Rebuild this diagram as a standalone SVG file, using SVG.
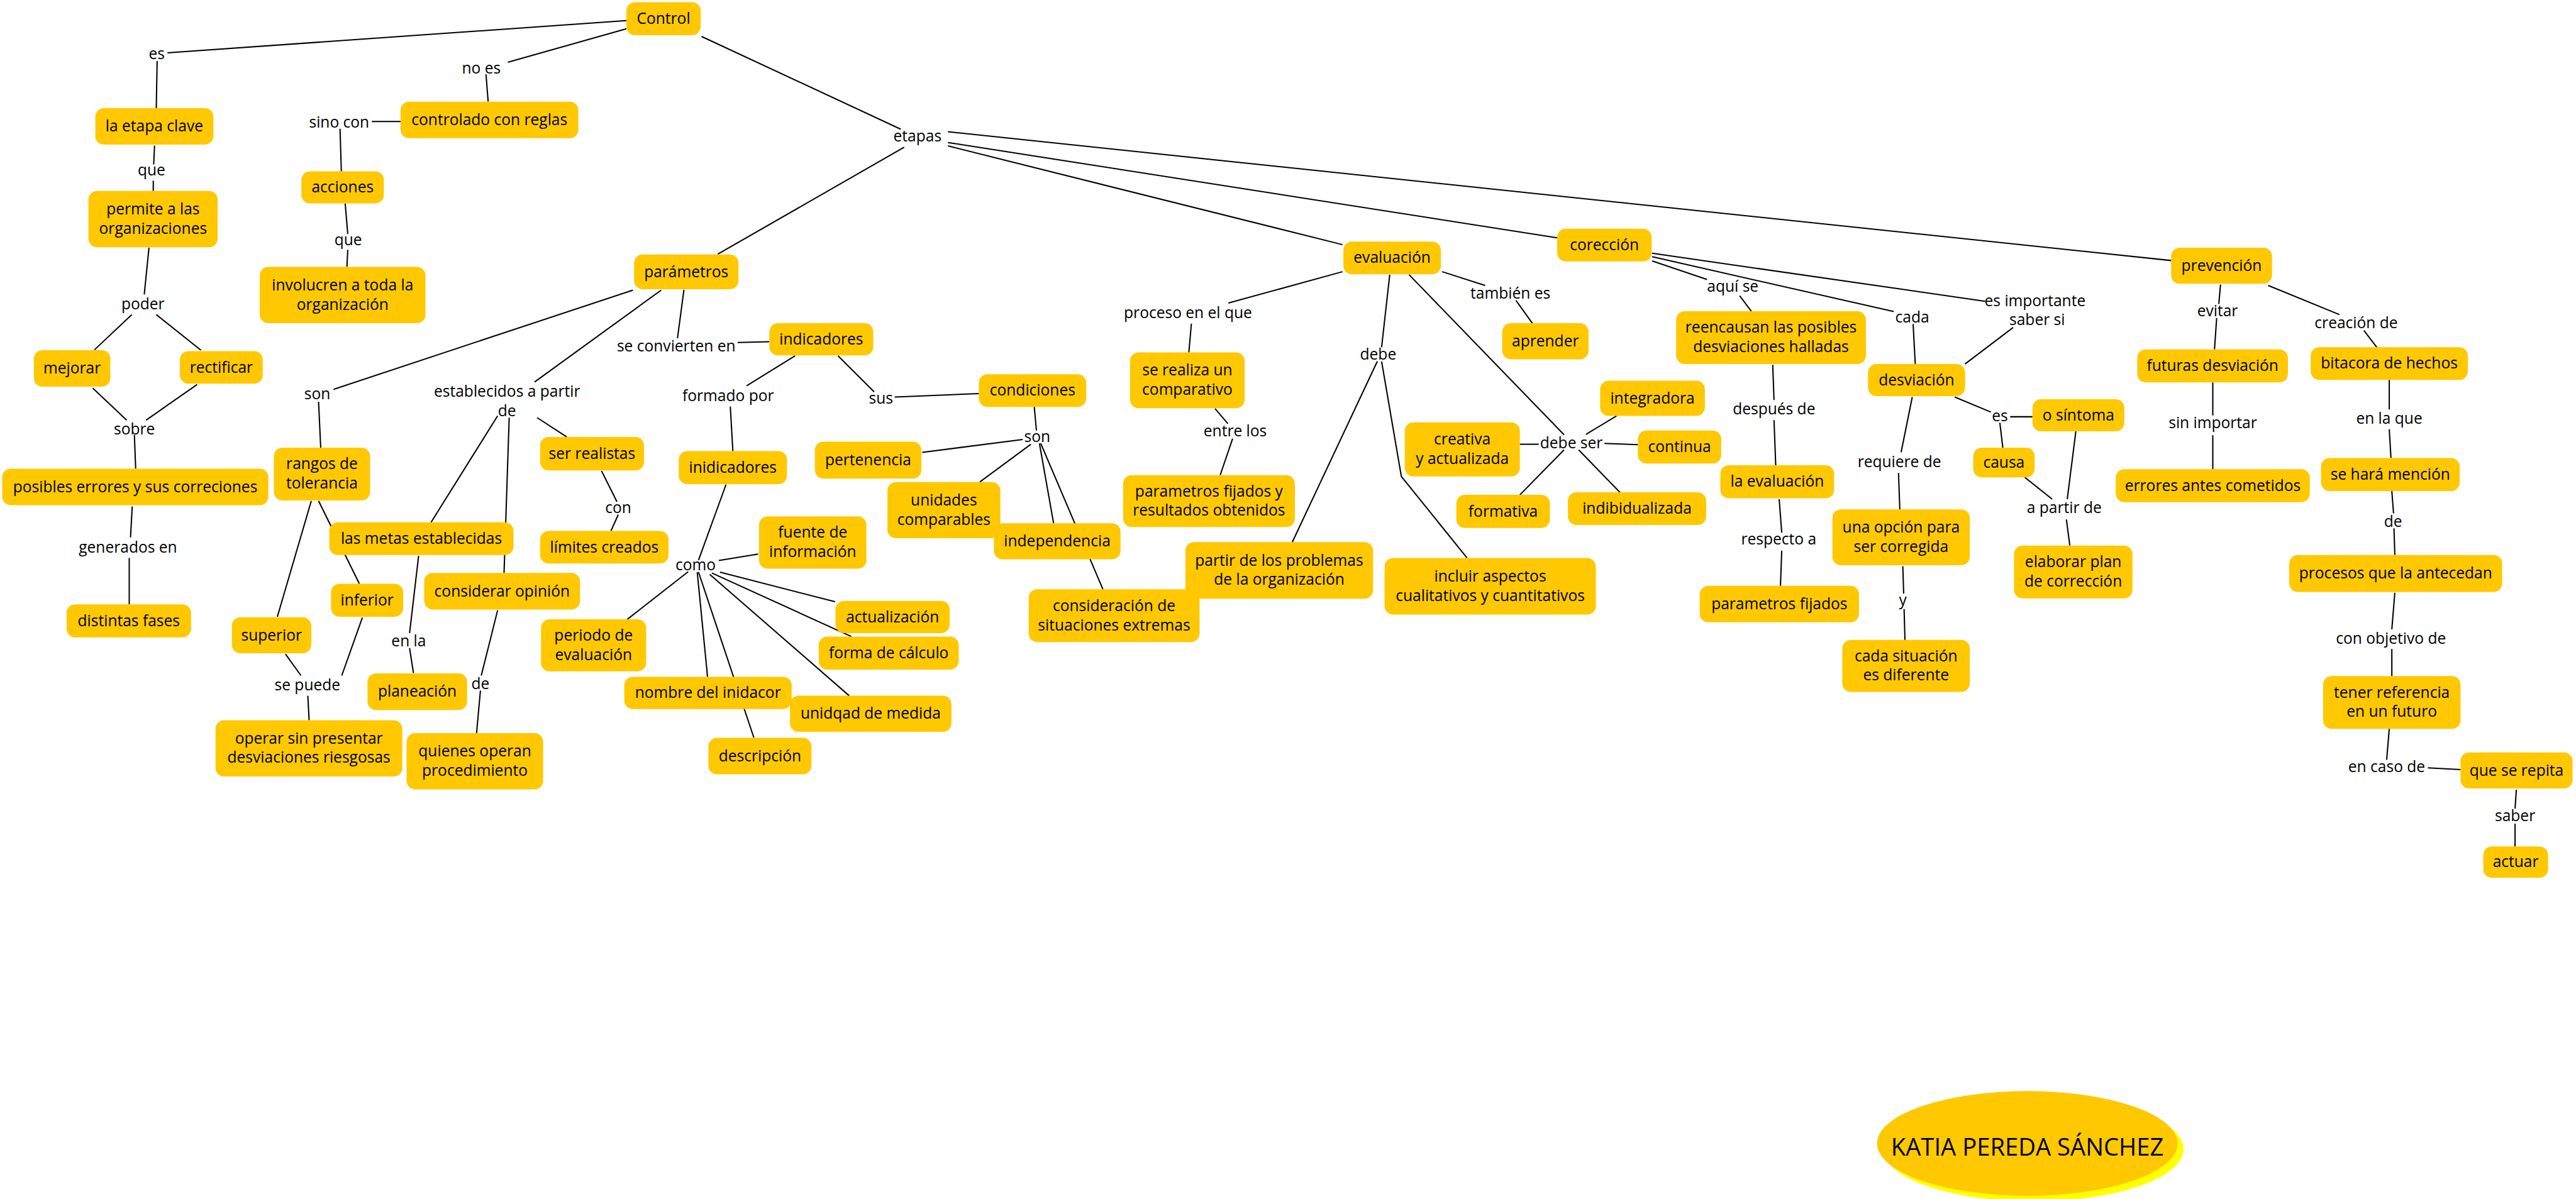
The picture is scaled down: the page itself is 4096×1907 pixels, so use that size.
<svg xmlns="http://www.w3.org/2000/svg" width="4096" height="1907" viewBox="0 0 4096 1907">
<style>
.bg{fill:#fff}
.n rect{fill:#FFC800}
text{font-family:"Open Sans","Noto Sans","Liberation Sans",sans-serif;font-size:36px;fill:#000;text-anchor:middle}
.c line,.c polyline{stroke:#000;stroke-width:3;fill:none}
.k{font-size:56px}
</style>
<rect class="bg" x="0" y="0" width="4096" height="1907"/>
<g transform="scale(0.68267)">
<g id="connectors" class="c">
<line x1="1459" y1="48" x2="390" y2="123"/>
<line x1="366" y1="142" x2="364" y2="252"/>
<line x1="1459" y1="67" x2="1183" y2="145"/>
<line x1="1132" y1="173" x2="1137" y2="237"/>
<line x1="933" y1="283" x2="866" y2="283"/>
<line x1="792" y1="300" x2="795" y2="399"/>
<line x1="804" y1="474" x2="810" y2="545"/>
<line x1="810" y1="582" x2="808" y2="622"/>
<line x1="360" y1="339" x2="358" y2="383"/>
<line x1="357" y1="421" x2="357" y2="445"/>
<line x1="347" y1="577" x2="336" y2="686"/>
<line x1="307" y1="733" x2="220" y2="815"/>
<line x1="364" y1="733" x2="468" y2="816"/>
<line x1="216" y1="904" x2="295" y2="979"/>
<line x1="459" y1="896" x2="340" y2="979"/>
<line x1="313" y1="1013" x2="316" y2="1092"/>
<line x1="308" y1="1180" x2="304" y2="1252"/>
<line x1="301" y1="1300" x2="301" y2="1408"/>
<line x1="1634" y1="85" x2="2098" y2="301"/>
<line x1="2106" y1="343" x2="1672" y2="592"/>
<line x1="2208" y1="307" x2="5057" y2="607"/>
<line x1="2208" y1="332" x2="3627" y2="554"/>
<line x1="2208" y1="340" x2="3127" y2="570"/>
<line x1="1474" y1="676" x2="777" y2="907"/>
<line x1="742" y1="936" x2="747" y2="1043"/>
<line x1="1540" y1="676" x2="1245" y2="890"/>
<line x1="1159" y1="969" x2="1004" y2="1217"/>
<line x1="1186" y1="973" x2="1174" y2="1335"/>
<line x1="1251" y1="973" x2="1320" y2="1018"/>
<line x1="1401" y1="1097" x2="1437" y2="1169"/>
<line x1="1440" y1="1199" x2="1423" y2="1237"/>
<line x1="725" y1="1167" x2="646" y2="1437"/>
<line x1="742" y1="1167" x2="837" y2="1360"/>
<line x1="665" y1="1524" x2="701" y2="1574"/>
<line x1="844" y1="1439" x2="796" y2="1574"/>
<line x1="717" y1="1621" x2="720" y2="1678"/>
<line x1="975" y1="1295" x2="954" y2="1475"/>
<line x1="954" y1="1510" x2="963" y2="1568"/>
<line x1="1159" y1="1422" x2="1121" y2="1574"/>
<line x1="1119" y1="1609" x2="1110" y2="1708"/>
<line x1="1593" y1="675" x2="1578" y2="788"/>
<line x1="1718" y1="798" x2="1792" y2="796"/>
<line x1="1852" y1="829" x2="1739" y2="899"/>
<line x1="1701" y1="947" x2="1707" y2="1051"/>
<line x1="1952" y1="829" x2="2036" y2="913"/>
<line x1="2084" y1="925" x2="2280" y2="917"/>
<line x1="2409" y1="948" x2="2414" y2="1003"/>
<line x1="2382" y1="1024" x2="2148" y2="1054"/>
<line x1="2401" y1="1035" x2="2282" y2="1123"/>
<line x1="2421" y1="1033" x2="2454" y2="1219"/>
<line x1="2424" y1="1033" x2="2569" y2="1373"/>
<line x1="1691" y1="1129" x2="1627" y2="1305"/>
<line x1="1674" y1="1306" x2="1766" y2="1291"/>
<line x1="1677" y1="1333" x2="1945" y2="1402"/>
<line x1="1658" y1="1335" x2="1983" y2="1483"/>
<line x1="1653" y1="1338" x2="1978" y2="1621"/>
<line x1="1624" y1="1333" x2="1648" y2="1577"/>
<line x1="1627" y1="1333" x2="1756" y2="1719"/>
<line x1="1603" y1="1332" x2="1461" y2="1443"/>
<line x1="3127" y1="633" x2="2861" y2="706"/>
<line x1="2775" y1="754" x2="2769" y2="821"/>
<line x1="2830" y1="952" x2="2860" y2="987"/>
<line x1="2871" y1="1022" x2="2842" y2="1107"/>
<line x1="3359" y1="633" x2="3459" y2="665"/>
<line x1="3531" y1="700" x2="3569" y2="753"/>
<line x1="3237" y1="640" x2="3218" y2="809"/>
<line x1="3208" y1="842" x2="3010" y2="1263"/>
<polyline points="3218,842 3264,1110 3417,1300"/>
<line x1="3282" y1="640" x2="3643" y2="1013"/>
<line x1="3540" y1="1035" x2="3584" y2="1035"/>
<line x1="3737" y1="1033" x2="3815" y2="1036"/>
<line x1="3643" y1="1048" x2="3540" y2="1153"/>
<line x1="3677" y1="1048" x2="3773" y2="1147"/>
<line x1="3765" y1="969" x2="3694" y2="1012"/>
<line x1="3848" y1="608" x2="3976" y2="651"/>
<line x1="4052" y1="689" x2="4079" y2="725"/>
<line x1="3848" y1="598" x2="4411" y2="726"/>
<line x1="4456" y1="755" x2="4461" y2="848"/>
<line x1="3848" y1="590" x2="4624" y2="702"/>
<line x1="4689" y1="763" x2="4577" y2="848"/>
<line x1="4129" y1="850" x2="4132" y2="932"/>
<line x1="4132" y1="979" x2="4136" y2="1084"/>
<line x1="4144" y1="1163" x2="4150" y2="1241"/>
<line x1="4150" y1="1283" x2="4147" y2="1365"/>
<line x1="4454" y1="925" x2="4428" y2="1054"/>
<line x1="4422" y1="1102" x2="4425" y2="1187"/>
<line x1="4432" y1="1319" x2="4434" y2="1383"/>
<line x1="4435" y1="1419" x2="4437" y2="1491"/>
<line x1="4553" y1="925" x2="4637" y2="960"/>
<line x1="4682" y1="971" x2="4734" y2="971"/>
<line x1="4658" y1="985" x2="4665" y2="1043"/>
<line x1="4716" y1="1112" x2="4780" y2="1163"/>
<line x1="4835" y1="1005" x2="4815" y2="1163"/>
<line x1="4813" y1="1210" x2="4821" y2="1271"/>
<line x1="5172" y1="663" x2="5168" y2="708"/>
<line x1="5163" y1="741" x2="5158" y2="814"/>
<line x1="5154" y1="891" x2="5154" y2="968"/>
<line x1="5154" y1="1014" x2="5154" y2="1093"/>
<line x1="5283" y1="665" x2="5449" y2="733"/>
<line x1="5506" y1="770" x2="5536" y2="809"/>
<line x1="5565" y1="885" x2="5565" y2="954"/>
<line x1="5565" y1="1000" x2="5569" y2="1067"/>
<line x1="5571" y1="1144" x2="5575" y2="1196"/>
<line x1="5576" y1="1231" x2="5578" y2="1293"/>
<line x1="5578" y1="1381" x2="5571" y2="1466"/>
<line x1="5571" y1="1512" x2="5571" y2="1575"/>
<line x1="5565" y1="1698" x2="5559" y2="1770"/>
<line x1="5655" y1="1789" x2="5731" y2="1793"/>
<line x1="5861" y1="1840" x2="5858" y2="1884"/>
<line x1="5858" y1="1919" x2="5858" y2="1972"/>
</g>
<g id="labels">
<text x="365" y="138">es</text>
<text x="1121" y="171">no es</text>
<text x="790" y="297">sino con</text>
<text x="811" y="571">que</text>
<text x="353" y="409">que</text>
<text x="333" y="720">poder</text>
<text x="313" y="1012">sobre</text>
<text x="298" y="1288">generados en</text>
<text x="739" y="930">son</text>
<text x="1181" y="924">establecidos a partir</text>
<text x="1181" y="969">de</text>
<text x="1440" y="1195">con</text>
<text x="952" y="1506">en la</text>
<text x="1119" y="1605">de</text>
<text x="716" y="1608">se puede</text>
<text x="2137" y="329">etapas</text>
<text x="1575" y="819">se convierten en</text>
<text x="1696" y="934">formado por</text>
<text x="2052" y="940">sus</text>
<text x="1620" y="1329">como</text>
<text x="2416" y="1030">son</text>
<text x="2767" y="741">proceso en el que</text>
<text x="2877" y="1016">entre los</text>
<text x="3210" y="838">debe</text>
<text x="3518" y="696">también es</text>
<text x="3660" y="1044">debe ser</text>
<text x="4036" y="679">aquí se</text>
<text x="4454" y="751">cada</text>
<text x="4740" y="714">es importante</text>
<text x="4745" y="758">saber si</text>
<text x="4132" y="965">después de</text>
<text x="4143" y="1268">respecto a</text>
<text x="4424" y="1089">requiere de</text>
<text x="4432" y="1411">y</text>
<text x="4658" y="981">es</text>
<text x="4808" y="1196">a partir de</text>
<text x="5165" y="737">evitar</text>
<text x="5154" y="997">sin importar</text>
<text x="5488" y="765">creación de</text>
<text x="5565" y="987">en la que</text>
<text x="5574" y="1227">de</text>
<text x="5569" y="1500">con objetivo de</text>
<text x="5559" y="1799">en caso de</text>
<text x="5858" y="1913">saber</text>
</g>
<g id="n-control" class="n"><rect x="1459" y="5" width="173" height="77" rx="20"/><text x="1545.5" y="55.5">Control</text></g>
<g id="n-etapa" class="n"><rect x="222" y="252" width="275" height="85" rx="20"/><text x="359.5" y="306.5">la etapa clave</text></g>
<g id="n-permite" class="n"><rect x="206" y="445" width="301" height="131" rx="20"/><text x="356.5" y="499.5">permite a las</text><text x="356.5" y="544.5">organizaciones</text></g>
<g id="n-mejorar" class="n"><rect x="79" y="816" width="178" height="85" rx="20"/><text x="168" y="870.5">mejorar</text></g>
<g id="n-rectificar" class="n"><rect x="419" y="818" width="193" height="76" rx="20"/><text x="515.5" y="868">rectificar</text></g>
<g id="n-posibles" class="n"><rect x="5" y="1092" width="620" height="85" rx="20"/><text x="315" y="1146.5">posibles errores y sus correciones</text></g>
<g id="n-distintas" class="n"><rect x="155" y="1408" width="290" height="77" rx="20"/><text x="300" y="1458.5">distintas fases</text></g>
<g id="n-controlado" class="n"><rect x="933" y="237" width="414" height="85" rx="20"/><text x="1140" y="291.5">controlado con reglas</text></g>
<g id="n-acciones" class="n"><rect x="702" y="399" width="192" height="75" rx="20"/><text x="798" y="448.5">acciones</text></g>
<g id="n-involucren" class="n"><rect x="605" y="622" width="386" height="131" rx="20"/><text x="798" y="676.5">involucren a toda la</text><text x="798" y="721.5">organización</text></g>
<g id="n-parametros" class="n"><rect x="1477" y="593" width="243" height="81" rx="20"/><text x="1598.5" y="645.5">parámetros</text></g>
<g id="n-rangos" class="n"><rect x="638" y="1043" width="224" height="123" rx="20"/><text x="750" y="1093.5">rangos de</text><text x="750" y="1138.5">tolerancia</text></g>
<g id="n-metas" class="n"><rect x="767" y="1217" width="429" height="76" rx="20"/><text x="981.5" y="1267">las metas establecidas</text></g>
<g id="n-inferior" class="n"><rect x="771" y="1360" width="168" height="77" rx="20"/><text x="855" y="1410.5">inferior</text></g>
<g id="n-superior" class="n"><rect x="540" y="1438" width="185" height="84" rx="20"/><text x="632.5" y="1492">superior</text></g>
<g id="n-operar" class="n"><rect x="502" y="1678" width="435" height="131" rx="20"/><text x="719.5" y="1732.5">operar sin presentar</text><text x="719.5" y="1777.5">desviaciones riesgosas</text></g>
<g id="n-planeacion" class="n"><rect x="856" y="1569" width="232" height="85" rx="20"/><text x="972" y="1623.5">planeación</text></g>
<g id="n-considerar" class="n"><rect x="988" y="1335" width="363" height="85" rx="20"/><text x="1169.5" y="1389.5">considerar opinión</text></g>
<g id="n-quienes" class="n"><rect x="947" y="1708" width="318" height="131" rx="20"/><text x="1106" y="1762.5">quienes operan</text><text x="1106" y="1807.5">procedimiento</text></g>
<g id="n-realistas" class="n"><rect x="1258" y="1018" width="242" height="78" rx="20"/><text x="1379" y="1069">ser realistas</text></g>
<g id="n-limites" class="n"><rect x="1258" y="1237" width="299" height="76" rx="20"/><text x="1407.5" y="1287">límites creados</text></g>
<g id="n-periodo" class="n"><rect x="1260" y="1443" width="245" height="121" rx="20"/><text x="1382.5" y="1492.5">periodo de</text><text x="1382.5" y="1537.5">evaluación</text></g>
<g id="n-indicadores" class="n"><rect x="1792" y="753" width="242" height="75" rx="20"/><text x="1913" y="802.5">indicadores</text></g>
<g id="n-inidicadores" class="n"><rect x="1581" y="1051" width="252" height="77" rx="20"/><text x="1707" y="1101.5">inidicadores</text></g>
<g id="n-fuente" class="n"><rect x="1768" y="1203" width="250" height="122" rx="20"/><text x="1893" y="1253">fuente de</text><text x="1893" y="1298">información</text></g>
<g id="n-actualizacion" class="n"><rect x="1946" y="1400" width="266" height="75" rx="20"/><text x="2079" y="1449.5">actualización</text></g>
<g id="n-forma" class="n"><rect x="1907" y="1483" width="326" height="77" rx="20"/><text x="2070" y="1533.5">forma de cálculo</text></g>
<g id="n-nombre" class="n"><rect x="1454" y="1577" width="390" height="75" rx="20"/><text x="1649" y="1626.5">nombre del inidacor</text></g>
<g id="n-unidqad" class="n"><rect x="1840" y="1621" width="376" height="84" rx="20"/><text x="2028" y="1675">unidqad de medida</text></g>
<g id="n-descripcion" class="n"><rect x="1650" y="1719" width="240" height="85" rx="20"/><text x="1770" y="1773.5">descripción</text></g>
<g id="n-condiciones" class="n"><rect x="2280" y="872" width="250" height="76" rx="20"/><text x="2405" y="922">condiciones</text></g>
<g id="n-pertenencia" class="n"><rect x="1898" y="1029" width="248" height="86" rx="20"/><text x="2022" y="1084">pertenencia</text></g>
<g id="n-unidades" class="n"><rect x="2067" y="1123" width="263" height="131" rx="20"/><text x="2198.5" y="1177.5">unidades</text><text x="2198.5" y="1222.5">comparables</text></g>
<g id="n-independencia" class="n"><rect x="2315" y="1219" width="295" height="84" rx="20"/><text x="2462.5" y="1273">independencia</text></g>
<g id="n-consideracion" class="n"><rect x="2396" y="1373" width="398" height="123" rx="20"/><text x="2595" y="1423.5">consideración de</text><text x="2595" y="1468.5">situaciones extremas</text></g>
<g id="n-serealiza" class="n"><rect x="2632" y="821" width="267" height="130" rx="20"/><text x="2765.5" y="875">se realiza un</text><text x="2765.5" y="920">comparativo</text></g>
<g id="n-parfijy" class="n"><rect x="2616" y="1107" width="400" height="121" rx="20"/><text x="2816" y="1156.5">parametros fijados y</text><text x="2816" y="1201.5">resultados obtenidos</text></g>
<g id="n-partir" class="n"><rect x="2761" y="1263" width="437" height="132" rx="20"/><text x="2979.5" y="1318">partir de los problemas</text><text x="2979.5" y="1363">de la organización</text></g>
<g id="n-evaluacion" class="n"><rect x="3129" y="563" width="227" height="76" rx="20"/><text x="3242.5" y="613">evaluación</text></g>
<g id="n-aprender" class="n"><rect x="3499" y="753" width="201" height="84" rx="20"/><text x="3599.5" y="807">aprender</text></g>
<g id="n-integradora" class="n"><rect x="3727" y="887" width="244" height="82" rx="20"/><text x="3849" y="940">integradora</text></g>
<g id="n-creativa" class="n"><rect x="3272" y="984" width="268" height="126" rx="20"/><text x="3406" y="1036">creativa</text><text x="3406" y="1081">y actualizada</text></g>
<g id="n-continua" class="n"><rect x="3815" y="1003" width="194" height="77" rx="20"/><text x="3912" y="1053.5">continua</text></g>
<g id="n-formativa" class="n"><rect x="3392" y="1153" width="218" height="77" rx="20"/><text x="3501" y="1203.5">formativa</text></g>
<g id="n-indibidualizada" class="n"><rect x="3652" y="1147" width="322" height="76" rx="20"/><text x="3813" y="1197">indibidualizada</text></g>
<g id="n-incluir" class="n"><rect x="3225" y="1300" width="492" height="132" rx="20"/><text x="3471" y="1355">incluir aspectos</text><text x="3471" y="1400">cualitativos y cuantitativos</text></g>
<g id="n-correccion" class="n"><rect x="3627" y="533" width="220" height="76" rx="20"/><text x="3737" y="583">corección</text></g>
<g id="n-reencausan" class="n"><rect x="3904" y="725" width="442" height="123" rx="20"/><text x="4125" y="775.5">reencausan las posibles</text><text x="4125" y="820.5">desviaciones halladas</text></g>
<g id="n-laevaluacion" class="n"><rect x="4007" y="1084" width="265" height="77" rx="20"/><text x="4139.5" y="1134.5">la evaluación</text></g>
<g id="n-parfij" class="n"><rect x="3959" y="1365" width="371" height="85" rx="20"/><text x="4144.5" y="1419.5">parametros fijados</text></g>
<g id="n-desviacion" class="n"><rect x="4351" y="848" width="226" height="75" rx="20"/><text x="4464" y="897.5">desviación</text></g>
<g id="n-unaopcion" class="n"><rect x="4268" y="1187" width="320" height="130" rx="20"/><text x="4428" y="1241">una opción para</text><text x="4428" y="1286">ser corregida</text></g>
<g id="n-cadasituacion" class="n"><rect x="4291" y="1491" width="297" height="121" rx="20"/><text x="4439.5" y="1540.5">cada situación</text><text x="4439.5" y="1585.5">es diferente</text></g>
<g id="n-sintoma" class="n"><rect x="4734" y="930" width="214" height="75" rx="20"/><text x="4841" y="979.5">o síntoma</text></g>
<g id="n-causa" class="n"><rect x="4596" y="1043" width="143" height="69" rx="20"/><text x="4667.5" y="1089.5">causa</text></g>
<g id="n-elaborar" class="n"><rect x="4691" y="1271" width="276" height="123" rx="20"/><text x="4829" y="1321.5">elaborar plan</text><text x="4829" y="1366.5">de corrección</text></g>
<g id="n-prevencion" class="n"><rect x="5057" y="577" width="235" height="84" rx="20"/><text x="5174.5" y="631">prevención</text></g>
<g id="n-futuras" class="n"><rect x="4978" y="814" width="351" height="77" rx="20"/><text x="5153.5" y="864.5">futuras desviación</text></g>
<g id="n-errores" class="n"><rect x="4928" y="1093" width="452" height="77" rx="20"/><text x="5154" y="1143.5">errores antes cometidos</text></g>
<g id="n-bitacora" class="n"><rect x="5382" y="809" width="366" height="76" rx="20"/><text x="5565" y="859">bitacora de hechos</text></g>
<g id="n-sehara" class="n"><rect x="5406" y="1067" width="323" height="77" rx="20"/><text x="5567.5" y="1117.5">se hará mención</text></g>
<g id="n-procesos" class="n"><rect x="5332" y="1293" width="496" height="86" rx="20"/><text x="5580" y="1348">procesos que la antecedan</text></g>
<g id="n-tener" class="n"><rect x="5411" y="1575" width="320" height="123" rx="20"/><text x="5571" y="1625.5">tener referencia</text><text x="5571" y="1670.5">en un futuro</text></g>
<g id="n-repita" class="n"><rect x="5731" y="1753" width="261" height="84" rx="20"/><text x="5861.5" y="1807">que se repita</text></g>
<g id="n-actuar" class="n"><rect x="5784" y="1972" width="151" height="73" rx="20"/><text x="5859.5" y="2020.5">actuar</text></g>
<g id="n-katia">
<ellipse cx="4736" cy="2677" rx="350" ry="122" fill="#FFFF00"/>
<ellipse cx="4722" cy="2664" rx="350" ry="122" fill="#FFC800"/>
<text class="k" x="4722" y="2693">KATIA PEREDA SÁNCHEZ</text>
</g>
</g>
</svg>
